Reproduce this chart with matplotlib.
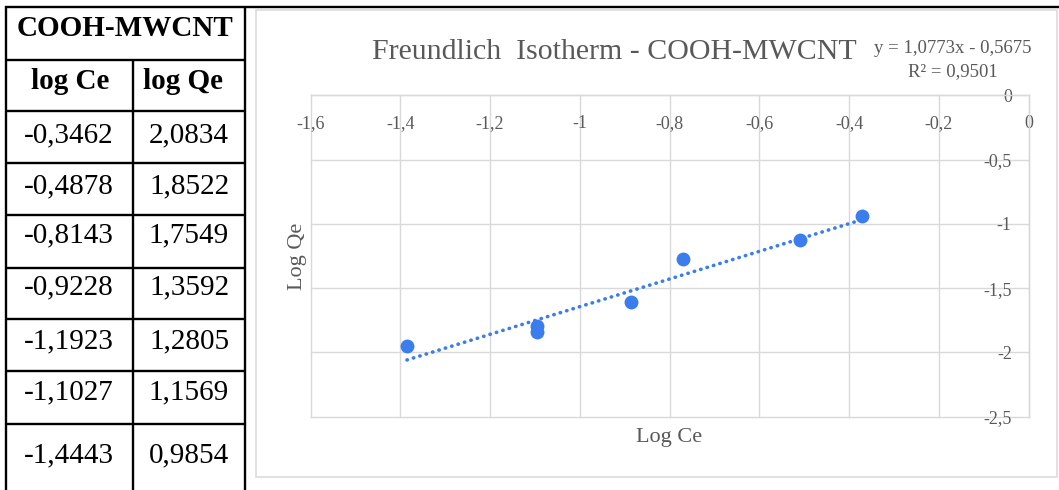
import matplotlib
matplotlib.use("Agg")
import matplotlib.pyplot as plt
from matplotlib.patches import Rectangle

plt.rcParams["font.family"] = ["Liberation Serif", "DejaVu Serif"]

# ---- table data ----
table_title = "COOH-MWCNT"
table_headers = ["log Ce", "log Qe"]
table_log_ce = ["-0,3462", "-0,4878", "-0,8143", "-0,9228", "-1,1923", "-1,1027", "-1,4443"]
table_log_qe = ["2,0834", "1,8522", "1,7549", "1,3592", "1,2805", "1,1569", "0,9854"]

# ---- plotted points ----
log_ce = [-1.385, -1.095, -1.095, -0.886, -0.771, -0.509, -0.371]
log_qe = [-1.952, -1.797, -1.843, -1.607, -1.272, -1.129, -0.937]

# ---- linear trend ----
fit_slope = 1.0773
fit_intercept = -0.5675
fit_r2 = 0.9501

x_ticks = [-1.6, -1.4, -1.2, -1.0, -0.8, -0.6, -0.4, -0.2, 0.0]
x_tick_labels = ["-1,6", "-1,4", "-1,2", "-1", "-0,8", "-0,6", "-0,4", "-0,2", "0"]
y_ticks = [-2.5, -2.0, -1.5, -1.0, -0.5, 0.0]
y_tick_labels = ["-2,5", "-2", "-1,5", "-1", "-0,5", "0"]

W, H = 1059, 490
fig = plt.figure(figsize=(W / 100, H / 100), dpi=100)
fig.patch.set_facecolor("white")

# Pixel-space layer for the table, chart frame and free text
bg = fig.add_axes([0, 0, 1, 1])
bg.set_xlim(0, W)
bg.set_ylim(H, 0)
bg.axis("off")

line_kw = dict(color="black", lw=1.7, solid_capstyle="butt")
bg.plot([5, W], [7.5, 7.5], **line_kw)
for yy in [60, 111, 163, 215, 268, 319, 371, 424]:
    bg.plot([5, 245], [yy, yy], **line_kw)
bg.plot([6, 6], [6.5, H], **line_kw)
bg.plot([245, 245], [6.5, H], **line_kw)
bg.plot([133.3, 133.3], [60, H], **line_kw)

tfont = 21
bg.text(125, 36, table_title, ha="center", va="baseline", fontsize=tfont, fontweight="bold")
bg.text(70, 89, table_headers[0], ha="center", va="baseline", fontsize=tfont, fontweight="bold")
bg.text(183, 89, table_headers[1], ha="center", va="baseline", fontsize=tfont, fontweight="bold")
row_baselines = [142, 193, 242, 294, 348, 399, 462]
for yb, a, b in zip(row_baselines, table_log_ce, table_log_qe):
    bg.text(69, yb, a, ha="center", va="baseline", fontsize=tfont)
    bg.text(189, yb, b, ha="center", va="baseline", fontsize=tfont)

# Chart frame
bg.add_patch(Rectangle((256, 10), 801, 467, fill=False, edgecolor="#d9d9d9", lw=1.1))

text_grey = "#595959"
grid_grey = "#d9d9d9"
bg.text(614, 59, "Freundlich  Isotherm - COOH-MWCNT", ha="center", va="baseline",
        fontsize=21.5, color=text_grey)
bg.text(953, 53, f"y = {fit_slope:.4f}x - {abs(fit_intercept):.4f}".replace(".", ","),
        ha="center", va="baseline", fontsize=13.5, color=text_grey)
bg.text(953, 76, f"R² = {fit_r2:.4f}".replace(".", ","),
        ha="center", va="baseline", fontsize=13.5, color=text_grey)

# ---- scatter chart ----
left, right, top, bottom = 310.5, 1028.5, 95.5, 416.5
ax = fig.add_axes([left / W, (H - bottom) / H, (right - left) / W, (bottom - top) / H])
ax.patch.set_alpha(0)
ax.set_xlim(-1.6, 0)
ax.set_ylim(-2.5, 0)

for xv in x_ticks:
    ax.axvline(xv, color=grid_grey, lw=1.0, clip_on=False, zorder=0)
for yv in y_ticks:
    ax.axhline(yv, color=grid_grey, lw=1.0, clip_on=False, zorder=0)

ax.spines["bottom"].set_position(("data", 0))
ax.spines["left"].set_position(("data", 0))
ax.spines["top"].set_visible(False)
ax.spines["right"].set_visible(False)
for s in ("bottom", "left"):
    ax.spines[s].set_color(grid_grey)
    ax.spines[s].set_linewidth(1.0)

ax.set_xticks(x_ticks, x_tick_labels)
ax.set_yticks(y_ticks, y_tick_labels)
ax.tick_params(axis="x", length=0, pad=14, labelsize=13, labelcolor=text_grey)
ax.tick_params(axis="y", length=0, pad=12, labelsize=13, labelcolor=text_grey)

point_blue = "#3b7ded"
trend_x = [min(log_ce), max(log_ce)]
trend_y = [fit_slope * v + fit_intercept for v in trend_x]
ax.plot(trend_x, trend_y, color=point_blue, lw=2.6, linestyle=(0, (0.1, 1.75)),
        dash_capstyle="round", zorder=2, clip_on=False)
ax.plot(log_ce, log_qe, "o", color=point_blue, ms=10, mec="none", zorder=3, clip_on=False)

ax.set_xlabel("Log Ce", fontsize=16, color=text_grey)
ax.xaxis.set_label_coords(0.5, (bottom - 441.7) / (bottom - top))
ax.xaxis.label.set_va("baseline")
ax.set_ylabel("Log Qe", fontsize=16, color=text_grey)
ax.yaxis.set_label_coords((302 - left) / (right - left), 0.5)
ax.yaxis.label.set_va("baseline")

fig.savefig("out.png", dpi=100)
